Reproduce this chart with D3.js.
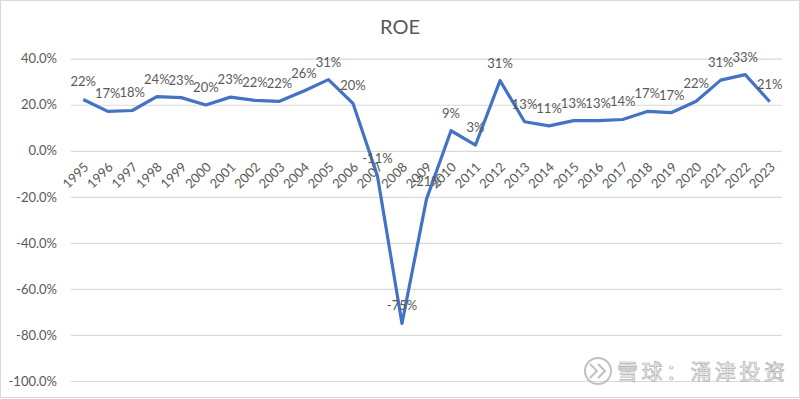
<!DOCTYPE html>
<html><head><meta charset="utf-8">
<script src="https://cdn.jsdelivr.net/npm/d3@7"></script>
<style>body{margin:0;background:#fff}svg{display:block}</style>
</head><body>
<svg id="c" width="800" height="399"></svg>
<script>
const years = ["1995","1996","1997","1998","1999","2000","2001","2002","2003","2004","2005","2006","2007","2008","2009","2010","2011","2012","2013","2014","2015","2016","2017","2018","2019","2020","2021","2022","2023"];
const roe = [22.3,17.1,17.5,23.5,23.1,19.9,23.3,21.9,21.5,26.0,30.9,20.6,-11.0,-75.0,-21.0,8.7,2.5,30.5,12.6,10.8,13.1,13.1,13.6,17.1,16.6,21.5,30.7,33.1,21.3];
const labels = ["22%","17%","18%","24%","23%","20%","23%","22%","22%","26%","31%","20%","-11%","-75%","-21%","9%","3%","31%","13%","11%","13%","13%","14%","17%","17%","22%","31%","33%","21%"];
const yTicks = [40,20,0,-20,-40,-60,-80,-100];
const title = "ROE";
const watermark = "雪球：涌津投资";

const svg = d3.select("#c");
const font = "Lato, 'Liberation Sans', sans-serif";
const grey = "#595959";

svg.append("rect").attr("x",0.5).attr("y",0.5).attr("width",799).attr("height",397)
  .attr("fill","#fff").attr("stroke","#d9d9d9");

const x = d3.scaleBand().domain(years).range([71,782]);
const y = d3.scaleLinear().domain([-100,40]).range([381,58.7]);

svg.append("text").attr("x",400).attr("y",34).attr("text-anchor","middle")
  .attr("font-family",font).attr("font-size",20).attr("fill",grey).text(title);

// gridlines
const yAxis = d3.axisLeft(y).tickValues(yTicks).tickSize(-(782-71)).tickFormat(d=>d.toFixed(1)+"%");
const gy = svg.append("g").attr("transform","translate(71,0)").call(yAxis);
gy.select(".domain").remove();
gy.selectAll("line").attr("stroke","#d9d9d9").attr("stroke-width",1.2);
gy.selectAll("text").attr("x",-14).attr("font-family",font).attr("font-size",13).attr("fill",grey);

// category axis at 0
const xAxis = d3.axisBottom(x).tickSize(0);
const gx = svg.append("g").attr("transform",`translate(0,${y(0)})`).call(xAxis);
gx.select(".domain").remove();
gx.selectAll("text").attr("font-family",font).attr("font-size",13).attr("fill",grey)
  .attr("text-anchor","end").attr("dy",0)
  .attr("transform","translate(4,15) rotate(-45)");

// line
const line = d3.line().x((d,i)=>x(years[i])+x.bandwidth()/2).y(d=>y(d));
svg.append("path").datum(roe).attr("d",line).attr("fill","none")
  .attr("stroke","#4472c4").attr("stroke-width",3.2).attr("stroke-linejoin","round");

// data labels
svg.append("g").selectAll("text").data(roe).join("text")
  .attr("x",(d,i)=>x(years[i])+x.bandwidth()/2)
  .attr("y",d=>y(d)-13)
  .attr("text-anchor","middle")
  .attr("font-family",font).attr("font-size",13).attr("fill",grey)
  .text((d,i)=>labels[i]);

// watermark
const wm = svg.append("g").attr("opacity",0.9);
wm.append("circle").attr("cx",598).attr("cy",371).attr("r",13)
  .attr("fill","none").attr("stroke","#bbb").attr("stroke-width",2);
wm.append("path").attr("d","M590,364 L597,371 L590,378 M598,364 L605,371 L598,378")
  .attr("fill","none").attr("stroke","#bbb").attr("stroke-width",2);
wm.append("text").attr("x",617).attr("y",379)
  .attr("font-family","'Noto Sans CJK SC', sans-serif").attr("font-size",21)
  .attr("fill","#f4f4f4").attr("stroke","#a8a8a8").attr("stroke-width",0.7)
  .attr("textLength",168).text(watermark);
</script>
</body></html>
